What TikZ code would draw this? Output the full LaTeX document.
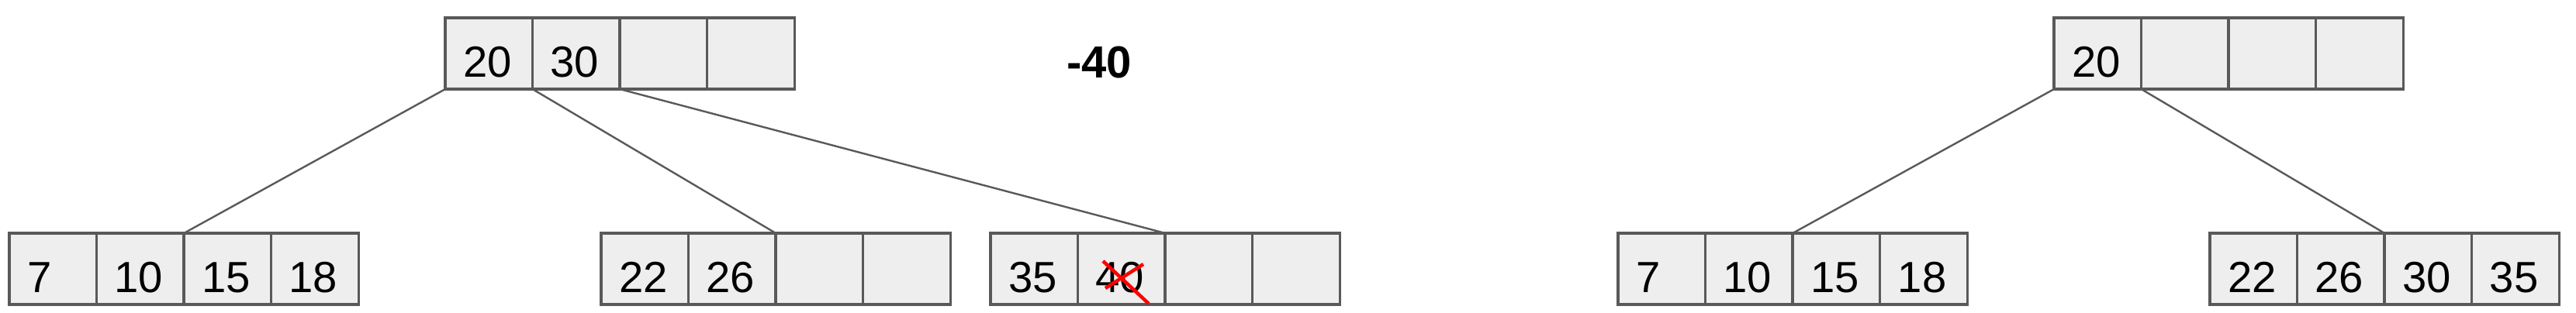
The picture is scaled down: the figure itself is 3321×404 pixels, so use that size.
\documentclass[tikz,border=0pt]{standalone}
\usepackage{fontspec}
\setmainfont{Liberation Sans}
\usetikzlibrary{positioning}
\definecolor{cellgray}{HTML}{EEEEEE}
\definecolor{edgegray}{HTML}{595959}
\begin{document}
\begin{tikzpicture}
    [x=0.01cm, y=-0.01cm,
    cell/.style={draw=edgegray, fill=cellgray, line width=0.035cm, outer sep=0pt,
        inner xsep=0.23cm, inner ysep=0pt, text width=0.665cm, align=left,
        text height=0.76cm, text depth=0.16cm, font=\fontsize{16}{19}\selectfont},
    edge/.style={draw=edgegray, line width=0.024cm},
    cross/.style={draw=red, line width=0.045cm}]

    \useasboundingbox (0,0) rectangle (3321,404);

    % Before deletion: root
    \node[cell, anchor=north west] (A1) at (574,23) {20};
    \node[cell, right=0pt of A1] (A2) {30};
    \node[cell, right=0pt of A2] (A3) {};
    \node[cell, right=0pt of A3] (A4) {};

    % Before deletion: leaves
    \node[cell, anchor=north west] (B1) at (12,301) {7};
    \node[cell, right=0pt of B1] (B2) {10};
    \node[cell, right=0pt of B2] (B3) {15};
    \node[cell, right=0pt of B3] (B4) {18};

    \node[cell, anchor=north west] (C1) at (775,301) {22};
    \node[cell, right=0pt of C1] (C2) {26};
    \node[cell, right=0pt of C2] (C3) {};
    \node[cell, right=0pt of C3] (C4) {};

    \node[cell, anchor=north west] (D1) at (1277,301) {35};
    \node[cell, right=0pt of D1] (D2) {40};
    \node[cell, right=0pt of D2] (D3) {};
    \node[cell, right=0pt of D3] (D4) {};

    % Operation
    \node[anchor=base, inner sep=0pt, font=\fontsize{16.5}{20}\selectfont\bfseries] (op) at (1417,101) {-40};

    % After deletion: root
    \node[cell, anchor=north west] (E1) at (2648,23) {20};
    \node[cell, right=0pt of E1] (E2) {};
    \node[cell, right=0pt of E2] (E3) {};
    \node[cell, right=0pt of E3] (E4) {};

    % After deletion: leaves
    \node[cell, anchor=north west] (F1) at (2086,301) {7};
    \node[cell, right=0pt of F1] (F2) {10};
    \node[cell, right=0pt of F2] (F3) {15};
    \node[cell, right=0pt of F3] (F4) {18};

    \node[cell, anchor=north west] (G1) at (2849,301) {22};
    \node[cell, right=0pt of G1] (G2) {26};
    \node[cell, right=0pt of G2] (G3) {30};
    \node[cell, right=0pt of G3] (G4) {35};

    % Child pointers
    \draw[edge] (A1.south west) -- (B3.north west);
    \draw[edge] (A1.south east) -- (C3.north west);
    \draw[edge] (A2.south east) -- (D3.north west);
    \draw[edge] (E1.south west) -- (F3.north west);
    \draw[edge] (E1.south east) -- (G3.north west);

    % Deleted key
    \draw[cross] (1422,337) -- (1481,392);
    \draw[cross] (1425,372) -- (1474,341);

\end{tikzpicture}
\end{document}
